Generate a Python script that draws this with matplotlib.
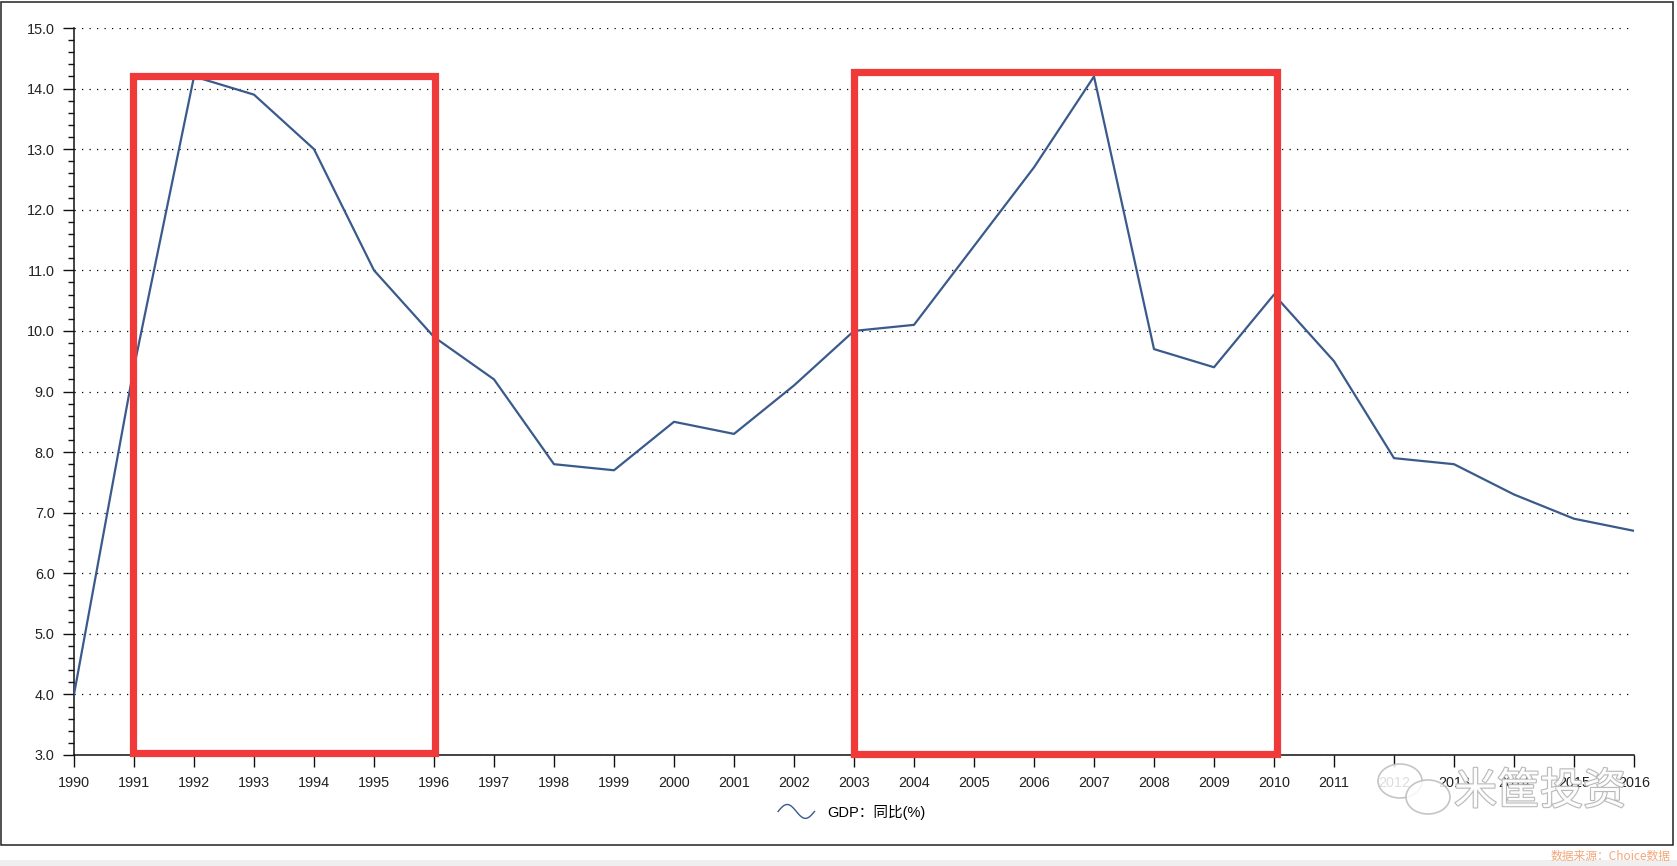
import numpy as np
import matplotlib
matplotlib.use("Agg")
import matplotlib.pyplot as plt
from matplotlib.patches import Rectangle, Ellipse
from matplotlib.legend_handler import HandlerBase
from matplotlib.lines import Line2D
import matplotlib.patheffects as pe

# ---- data ----
years = list(range(1990, 2017))
gdp_yoy = [4.0, 9.4, 14.2, 13.9, 13.0, 11.0, 9.9, 9.2, 7.8, 7.7, 8.5, 8.3, 9.1,
           10.0, 10.1, 11.4, 12.7, 14.2, 9.7, 9.4, 10.6, 9.5, 7.9, 7.8, 7.3, 6.9, 6.7]
series_label = "GDP：同比(%)"
y_ticks = [3.0, 4.0, 5.0, 6.0, 7.0, 8.0, 9.0, 10.0, 11.0, 12.0, 13.0, 14.0, 15.0]
# highlight boxes: (x_start, x_end, y_bottom, y_top) in data units
highlights = [(1990.98, 1996.02, 3.03, 14.21), (2003.0, 2010.05, 3.02, 14.27)]
source_text = "数据来源：Choice数据"
watermark_text = "米筐投资"

W, H = 1677, 866
fig = plt.figure(figsize=(W / 100, H / 100), dpi=100)
fig.patch.set_facecolor("white")

ax_left, ax_right, ax_top, ax_bottom = 74, 1634, 28, 755
ax = fig.add_axes([ax_left / W, 1 - ax_bottom / H, (ax_right - ax_left) / W, (ax_bottom - ax_top) / H])

line_color = "#3B5A8C"
ax.plot(years, gdp_yoy, color=line_color, lw=1.6, zorder=3, label=series_label)

ax.set_xlim(years[0], years[-1])
ax.set_ylim(y_ticks[0], y_ticks[-1])
ax.set_xticks(years)
ax.set_xticklabels([str(y) for y in years])
ax.set_yticks(y_ticks)
ax.set_yticklabels([f"{v:.1f}" for v in y_ticks])
ax.set_yticks(np.arange(3.0, 15.0001, 0.2), minor=True)

for s in ["top", "right"]:
    ax.spines[s].set_visible(False)
for s in ["left", "bottom"]:
    ax.spines[s].set_linewidth(1.1)
    ax.spines[s].set_color("#111111")

ax.tick_params(axis="y", which="major", length=8, width=1, pad=6, colors="#111111", labelsize=10.4)
ax.tick_params(axis="y", which="minor", length=4.5, width=1, colors="#111111")
ax.tick_params(axis="x", which="major", length=8.5, width=1, pad=6.5, colors="#111111", labelsize=10.4)
for lab in ax.get_xticklabels() + ax.get_yticklabels():
    lab.set_fontfamily(["Liberation Sans", "DejaVu Sans"])
    lab.set_color("#222222")

ax.grid(axis="y", which="major", color="#000000", linestyle=(0, (1, 5)), lw=0.9)
ax.set_axisbelow(True)

# highlight rectangles
for x0, x1, y0, y1 in highlights:
    ax.add_patch(Rectangle((x0, y0), x1 - x0, y1 - y0, fill=False,
                           edgecolor="#F03A3A", lw=5.2, zorder=4, clip_on=False))

# legend with wavy handle
class HandlerWave(HandlerBase):
    def create_artists(self, legend, orig_handle, xdescent, ydescent, width, height, fontsize, trans):
        t = np.linspace(0, 1, 60)
        x = -xdescent + t * width
        y = -ydescent + height / 2 + 5.0 * np.sin(2 * np.pi * t)
        ln = Line2D(x, y, color=line_color, lw=1.0, transform=trans)
        return [ln]

handles, labels = ax.get_legend_handles_labels()
fig.legend(handles, labels, loc="center", bbox_to_anchor=(852 / W, 1 - 812 / H),
           frameon=False, handler_map={Line2D: HandlerWave()},
           handlelength=2.5, handletextpad=0.9,
           prop=dict(family=["Liberation Sans", "Noto Sans CJK SC"], size=10.5))

# figure frame and bottom strip
fig.add_artist(Rectangle((1 / W, 1 - 845 / H), 1672 / W, 843 / H, transform=fig.transFigure,
                         fill=False, edgecolor="#222222", lw=1.1))
fig.add_artist(Rectangle((0, 0), 1, 6 / H, transform=fig.transFigure,
                         facecolor="#EFEFEF", edgecolor="none"))

fig.text(1671 / W, 1 - 856 / H, source_text, ha="right", va="center", color="#F2A77A",
         fontsize=8.5, family=["Noto Sans CJK SC", "DejaVu Sans"])

# watermark
fig.text(1540 / W, 1 - 792 / H, watermark_text, ha="center", va="center", color="white",
         fontsize=31, family=["Noto Sans CJK SC", "DejaVu Sans"], alpha=0.95,
         path_effects=[pe.withStroke(linewidth=1.6, foreground="#B5B5B5")], zorder=10)
for (cx, cy, w, h) in [(1400, 781, 44, 34), (1428, 797, 44, 34)]:
    fig.add_artist(Ellipse((cx / W, 1 - cy / H), w / W, h / H, transform=fig.transFigure,
                           facecolor="white", edgecolor="#BBBBBB", lw=1.2, alpha=0.85, zorder=9))

fig.savefig("out.png", dpi=100)
